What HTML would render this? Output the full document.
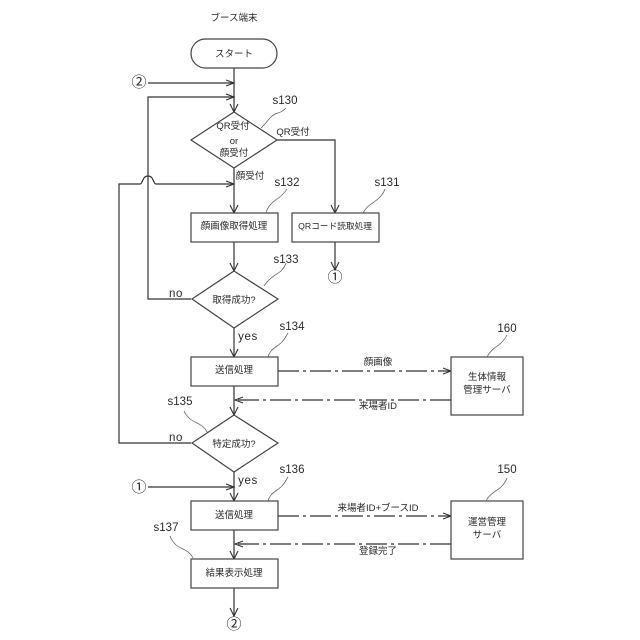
<!DOCTYPE html>
<html>
<head>
<meta charset="utf-8">
<style>
html,body{margin:0;padding:0;background:#fff;width:640px;height:640px;overflow:hidden}
svg{display:block}
text{font-family:"Liberation Sans","Noto Sans CJK JP",sans-serif;fill:#2a2a2a}
.j{font-size:9.5px;text-anchor:middle}
.l{font-size:11.5px;text-anchor:middle}
.e{font-size:11.5px;text-anchor:middle;letter-spacing:.6px}
.s{fill:none;stroke:#333;stroke-width:1.2}
.b{fill:#fff;stroke:#444;stroke-width:1.2}
.t{fill:none;stroke:#666;stroke-width:.8}
.d{fill:none;stroke:#333;stroke-width:1.2;stroke-dasharray:21 4 3 4}
.a{fill:none;stroke:#333;stroke-width:1.1}
</style>
</head>
<body>
<svg width="640" height="640" viewBox="0 0 640 640" xmlns="http://www.w3.org/2000/svg">
<!-- connectors -->
<path class="s" d="M234 68V112M148 83H234M234 97H148V299H191M234 168V213M277 140H335V213M234 242V271M335 242V270M234 328V357M234 386V415M234 472V501M234 530V559M234 588V616M148 487H234"/>
<path class="s" d="M234 184H156C153 184 154 176 148 176C142 176 143 184 140 184H119V443H191"/>
<!-- arrowheads -->
<path class="a" d="M230 104L234 112L238 104M226 80L234 83L226 86M226 94L234 97L226 100M226 181L234 184L226 187M230 205L234 213L238 205M331 205L335 213L339 205M230 263L234 271L238 263M331 262L335 270L339 262M230 349L234 357L238 349M230 407L234 415L238 407M226 484L234 487L226 490M230 493L234 501L238 493M230 551L234 559L238 551M230 608L234 616L238 608"/>
<path class="a" d="M443 368L451 371L443 374M243 397L235 400L243 403M443 513L451 516L443 519M243 541L235 544L243 547"/>
<!-- dash-dot -->
<path class="d" d="M278 371H450M451 400H236M278 516H450M451 544H236"/>
<!-- shapes -->
<rect class="b" x="191" y="39" width="86" height="29" rx="14.5" ry="14.5"/>
<polygon class="b" points="234,112 277,140 234,168 191,140"/>
<rect class="b" x="191" y="213" width="87" height="29"/>
<rect class="b" x="292" y="213" width="87" height="29"/>
<polygon class="b" points="234,271 278,299 234,328 192,299"/>
<rect class="b" x="191" y="357" width="87" height="29"/>
<polygon class="b" points="234,415 278,443 234,472 192,443"/>
<rect class="b" x="191" y="501" width="87" height="29"/>
<rect class="b" x="191" y="559" width="87" height="29"/>
<rect class="b" x="451" y="357" width="72" height="58"/>
<rect class="b" x="451" y="501" width="72" height="58"/>
<!-- leaders -->
<path class="t" d="M261 128C268 122 270 115 278 113C282 112 284 110 286 108"/>
<path class="t" d="M266 213C268 204 276 200 281 196C284 193 286 191 287 189"/>
<path class="t" d="M363 213C367 205 374 203 379 198C382 195 384 192 385 189"/>
<path class="t" d="M264 286C270 277 276 275 281 271C284 268 285 266 286 263"/>
<path class="t" d="M268 357C270 349 277 347 282 342C285 339 286 336 288 333"/>
<path class="t" d="M487 357C491 349 497 347 501 343C504 340 506 337 507 335"/>
<path class="t" d="M207 432C203 424 195 423 190 419C187 416 185 414 184 411"/>
<path class="t" d="M268 501C270 493 277 491 282 486C285 483 286 480 288 477"/>
<path class="t" d="M486 501C490 493 497 491 501 487C504 484 506 481 507 478"/>
<path class="t" d="M193 558C189 550 181 549 176 545C173 542 171 539 170 536"/>
<!-- labels -->
<text class="j" x="234" y="21">ブース端末</text>
<text class="j" x="234" y="57">スタート</text>
<text class="l" x="139" y="87" style="font-size:15px">②</text>
<text class="j" x="233" y="129">QR受付</text>
<text class="j" x="234" y="144">or</text>
<text class="j" x="234" y="156">顔受付</text>
<text class="j" x="293" y="135">QR受付</text>
<text class="j" x="250" y="179">顔受付</text>
<text class="j" x="234" y="229">顔画像取得処理</text>
<text class="j" x="335" y="229" style="font-size:8.7px">QRコード読取処理</text>
<text class="l" x="335" y="282" style="font-size:15px">①</text>
<text class="j" x="234" y="303">取得成功?</text>
<text class="e" x="176" y="297">no</text>
<text class="e" x="248" y="340">yes</text>
<text class="j" x="234" y="373">送信処理</text>
<text class="j" x="378" y="365">顔画像</text>
<text class="j" x="378" y="409">来場者ID</text>
<text class="j" x="487" y="380">生体情報</text>
<text class="j" x="487" y="393">管理サーバ</text>
<text class="j" x="234" y="447">特定成功?</text>
<text class="e" x="176" y="441">no</text>
<text class="e" x="248" y="484">yes</text>
<text class="l" x="139" y="492" style="font-size:15px">①</text>
<text class="j" x="234" y="518">送信処理</text>
<text class="j" x="378" y="511">来場者ID+ブースID</text>
<text class="j" x="378" y="554">登録完了</text>
<text class="j" x="487" y="525">運営管理</text>
<text class="j" x="487" y="538">サーバ</text>
<text class="j" x="234" y="576">結果表示処理</text>
<text class="l" x="234" y="629" style="font-size:15px">②</text>
<text class="l" x="285" y="104">s130</text>
<text class="l" x="287" y="186">s132</text>
<text class="l" x="387" y="186">s131</text>
<text class="l" x="286" y="263">s133</text>
<text class="l" x="292" y="330">s134</text>
<text class="l" x="507" y="332">160</text>
<text class="l" x="180" y="405">s135</text>
<text class="l" x="292" y="473">s136</text>
<text class="l" x="507" y="473">150</text>
<text class="l" x="166" y="531">s137</text>
</svg>
</body>
</html>
